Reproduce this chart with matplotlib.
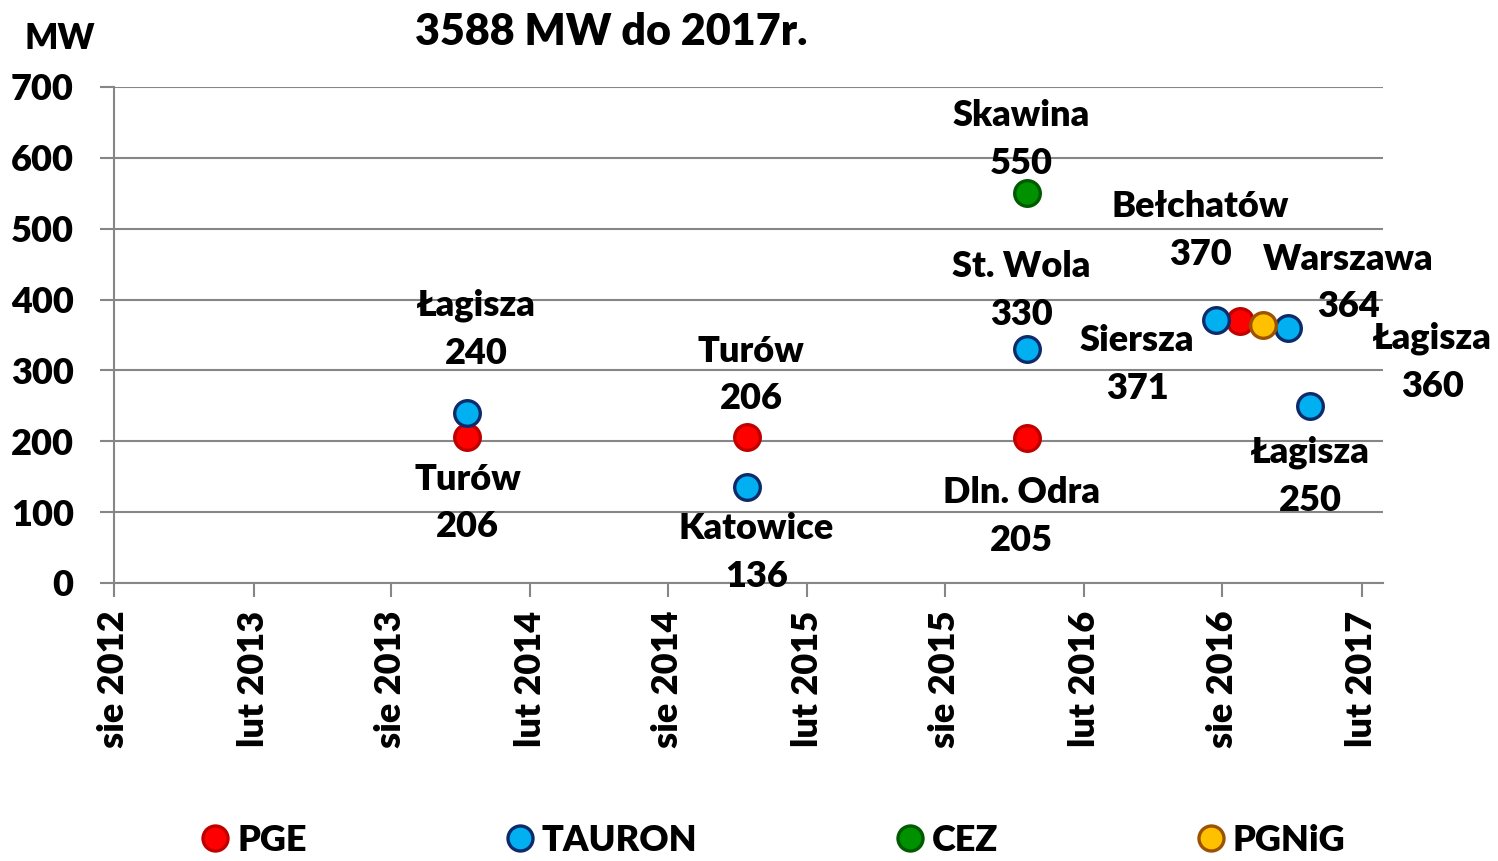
import numpy as np
import matplotlib
matplotlib.use("Agg")
from matplotlib import pyplot as plt
import matplotlib.dates as mdates
from matplotlib.ticker import FuncFormatter
from matplotlib.lines import Line2D
import datetime as dt

plt.rcParams['font.family'] = ['Lato', 'DejaVu Sans']
plt.rcParams['font.weight'] = 'heavy'
W = 'heavy'

# dane: firma, data, moc, opis
companies = ["PGE", "TAURON", "CEZ", "PGNiG"]
pge_dates = ["2013-11-10", "2014-11-14", "2015-11-18", "2016-08-24"]
pge_mw = [206, 206, 205, 370]
pge_names = ["Turów", "Turów", "Dln. Odra", "Bełchatów"]

tauron_dates = ["2013-11-10", "2014-11-14", "2015-11-18", "2016-07-24", "2016-10-27", "2016-11-25"]
tauron_mw = [240, 136, 330, 371, 360, 250]
tauron_names = ["Łagisza", "Katowice", "St. Wola", "Siersza", "Łagisza", "Łagisza"]

cez_dates = ["2015-11-18"]
cez_mw = [550]
cez_names = ["Skawina"]

pgnig_dates = ["2016-09-24"]
pgnig_mw = [364]
pgnig_names = ["Warszawa"]

# przesunięcia etykiet (piksele)
pge_off = [(0, -66), (4, 62), (-6, -79), (-39, 90)]
tauron_off = [(9, 84), (9, -66), (-6, 59), (-79, -44), (144, -34), (0, -70)]
cez_off = [(-6, 54)]
pgnig_off = [(85, 42)]

styles = {
    "PGE": ("#FF0000", "#C00000"),
    "TAURON": ("#00B0F0", "#0D2A6B"),
    "CEZ": ("#009100", "#005A00"),
    "PGNiG": ("#FFC000", "#9C5200"),
}

series = [
    ("PGE", pge_dates, pge_mw, pge_names, pge_off),
    ("TAURON", tauron_dates, tauron_mw, tauron_names, tauron_off),
    ("CEZ", cez_dates, cez_mw, cez_names, cez_off),
    ("PGNiG", pgnig_dates, pgnig_mw, pgnig_names, pgnig_off),
]

months_pl = {2: "lut", 8: "sie"}

fig = plt.figure(figsize=(14.98, 8.61), dpi=100)
ax = fig.add_axes([0.0761, 0.3229, 0.8471, 0.5761])

grid_col = "#868686"
for name, ds, vals, names, offs in series:
    x = [dt.datetime.strptime(d, "%Y-%m-%d") for d in ds]
    face, edge = styles[name]
    ax.scatter(x, vals, s=340, c=face, edgecolors=edge, linewidths=2.4, zorder=3)
    for xi, v, n, (dx, dy) in zip(x, vals, names, offs):
        ax.annotate(f"{n}\n{v}", xy=(xi, v), xytext=(dx, dy), textcoords="offset pixels",
                    ha="center", va="center", fontsize=26, fontweight=W,
                    linespacing=1.55, zorder=4)

ax.set_xlim(dt.datetime(2012, 8, 1), dt.datetime(2017, 3, 1))
ax.set_ylim(0, 700)
ax.set_yticks(np.arange(0, 701, 100))
ax.xaxis.set_major_locator(mdates.MonthLocator(bymonth=[2, 8]))
ax.xaxis.set_major_formatter(FuncFormatter(
    lambda v, p: f"{months_pl[mdates.num2date(v).month]} {mdates.num2date(v).year}"))
for lab in ax.get_xticklabels():
    lab.set_rotation(90)

ax.tick_params(axis="both", labelsize=26, length=10, width=1.5, color=grid_col)
ax.tick_params(axis="y", pad=19)
ax.tick_params(axis="x", pad=10)
for lab in ax.get_xticklabels() + ax.get_yticklabels():
    lab.set_fontweight(W)

ax.grid(axis="y", color=grid_col, linewidth=1.5)
ax.set_axisbelow(True)
for s in ["top", "right"]:
    ax.spines[s].set_visible(False)
for s in ["left", "bottom"]:
    ax.spines[s].set_color(grid_col)
    ax.spines[s].set_linewidth(1.5)

fig.text(0.040, 0.955, "MW", fontsize=25, fontweight=W, ha="center", va="center")
fig.text(0.408, 0.963, "3588 MW do 2017r.", fontsize=31, fontweight=W, ha="center", va="center")

handles = [Line2D([], [], marker="o", linestyle="none", markersize=18,
                  markerfacecolor=styles[c][0], markeredgecolor=styles[c][1],
                  markeredgewidth=2.4) for c in companies]
fig.legend(handles, companies, loc="lower left", bbox_to_anchor=(0.11, -0.033), ncol=4,
           frameon=False, fontsize=26, handletextpad=0.1, columnspacing=5.4,
           handlelength=1.0)

fig.savefig("out.png", dpi=100)
